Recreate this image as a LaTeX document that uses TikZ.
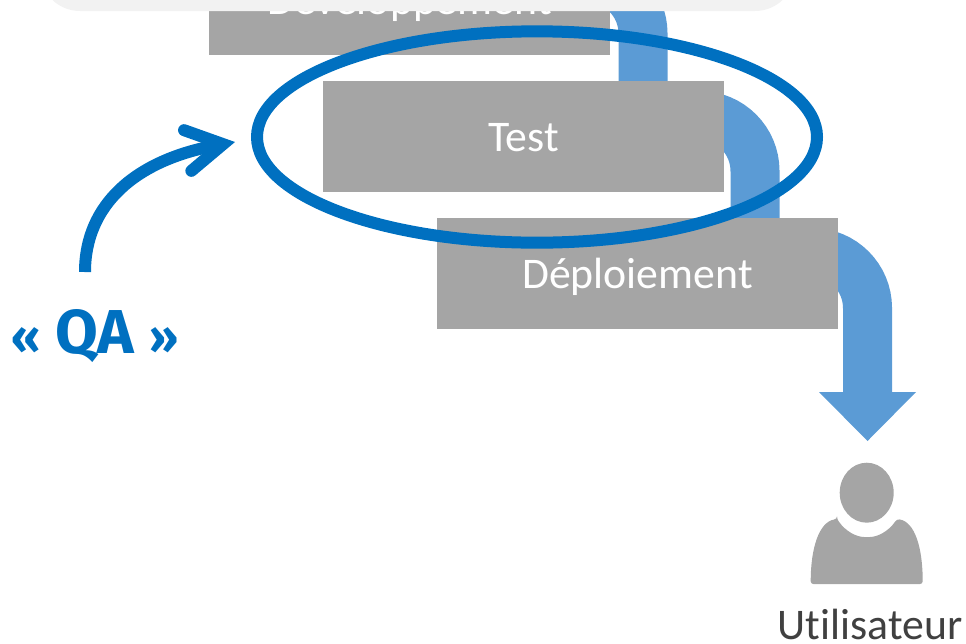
\documentclass[tikz,border=0pt]{standalone}
\usepackage{fontspec}
\usepackage{xcolor}
\setmainfont[Ligatures=NoCommon]{Carlito}
\newfontfamily\qafont{Fira Sans}
\usetikzlibrary{shapes,arrows,positioning,calc,arrows.meta}
\definecolor{stagegrey}{HTML}{A5A5A5}
\definecolor{flowblue}{HTML}{5B9BD5}
\definecolor{qablue}{HTML}{0070C0}
\definecolor{panelgrey}{HTML}{F2F2F2}
\definecolor{labelgrey}{HTML}{404040}
\tikzset{
    stagebox/.style={fill=stagegrey,text=white,minimum width=300.75pt,minimum height=83.25pt,inner sep=0pt,text height=23.2pt,text depth=0pt,font=\fontsize{32.8}{38}\selectfont},
    flowband/.style={draw=flowblue,line width=36.75pt},
    qaline/.style={draw=qablue,line width=9pt}
}
\begin{document}
\begin{tikzpicture}[x=0.75pt,y=-0.75pt]
    \clip[use as bounding box] (0,0) rectangle (966,643);
    \coordinate (devout) at (587.5,-22);
    \coordinate (testin) at (643,100);
    \coordinate (testout) at (699.5,115.5);
    \coordinate (deployin) at (755,230);
    \coordinate (deployout) at (812,252.5);
    \coordinate (headtop) at (867.5,392.5);
    \draw[flowband] (devout) arc[start angle=-90,end angle=0,radius=55.5] -- (testin);
    \draw[flowband] (testout) arc[start angle=-90,end angle=0,radius=55.5] -- (deployin);
    \draw[flowband] (deployout) arc[start angle=-90,end angle=0,radius=55.5] -- (headtop);
    \fill[flowblue] (819,392) -- (916,392) -- (867.5,441) -- cycle; % head of the flow
    \node[stagebox] (devbox) at (409.5,-0.5) {Développement};
    \node[stagebox] (testbox) at (523.5,136.5) {Test};
    \node[stagebox] (deploybox) at (637.5,273.5) {Déploiement};
    \fill[panelgrey,rounded corners=30pt] (40,-70) rectangle (795,11);
    % user icon
    \fill[stagegrey] (866.7,492.7) ellipse [x radius=27,y radius=30];
    \fill[stagegrey,rounded corners=2pt] (837,519) .. controls (846,532) and (857,537) .. (867,537) .. controls (877,537) and (888,532) .. (897,519) .. controls (915,522) and (922.7,548) .. (922.7,584) -- (810.7,584) .. controls (810.7,548) and (819,522) .. (837,519) -- cycle;
    \node[text=labelgrey,font=\fontsize{32.8}{38}\selectfont,anchor=base] (userlabel) at (870,639) {Utilisateur};
    \node[draw=qablue,line width=9pt,ellipse,inner sep=0pt,minimum width=420pt,minimum height=158.5pt] (qaring) at (537,137) {};
    \node[text=qablue,font=\qafont\bfseries\fontsize{46.5}{54}\selectfont,anchor=base] (qalabel) at (95,353) {{\fontsize{35}{40}\selectfont«} QA {\fontsize{35}{40}\selectfont»}};
    \coordinate (qastart) at (85,272);
    \coordinate (qatip) at (235,142);
    \draw[qaline,-{Straight Barb[length=27pt,width=31pt,line cap=round,line join=miter]}] (qastart) .. controls (85,205) and (135,160) .. (qatip);
\end{tikzpicture}
\end{document}
